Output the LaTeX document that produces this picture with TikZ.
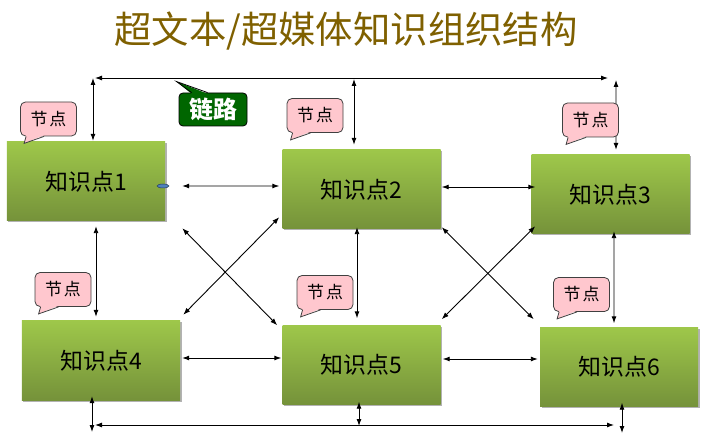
\documentclass[tikz,border=0pt]{standalone}
\usepackage{fontspec}
\newfontfamily\cjk{Noto Sans CJK SC}
\usetikzlibrary{arrows.meta,shadows,shapes.geometric}
\definecolor{titlec}{RGB}{127,96,0}
\definecolor{gtop}{RGB}{158,199,74}
\definecolor{gbot}{RGB}{117,146,58}
\definecolor{pinkc}{RGB}{255,199,206}
\definecolor{linkg}{RGB}{0,102,0}
\definecolor{ellc}{RGB}{79,129,189}
\newcommand\jdcall[3]{%
  \node[jdbox] (#1) at (#2,#3) {节\hspace{2bp}点};
  \fill[pinkc] ([shift={(6,-1.2)}]#1.south west) -- ([shift={(4,7)}]#1.south west) -- ([shift={(24,-1.2)}]#1.south west) -- cycle;
  \draw[cline] ([shift={(6,0)}]#1.south west) -- ([shift={(4,7)}]#1.south west) -- ([shift={(24,0)}]#1.south west);
}
\begin{document}
\begin{tikzpicture}[x=1bp,y=-1bp,
  kbox/.style={rectangle, minimum width=158bp, minimum height=79bp, inner sep=0pt,
    top color=gtop, bottom color=gbot, draw=none,
    drop shadow={shadow xshift=1.5bp,shadow yshift=-1.5bp,opacity=0.3,fill=black},
    font=\cjk\fontsize{23}{23}\selectfont},
  jdbox/.style={rectangle, rounded corners=5bp, minimum width=56bp, minimum height=34bp,
    inner sep=0pt, fill=pinkc, draw=black!75, line width=0.8bp,
    font=\cjk\fontsize{17}{17}\selectfont},
  cline/.style={draw=black!75, line width=0.8bp},
  dbl/.style={{Latex[length=7bp,width=5bp]}-{Latex[length=7bp,width=5bp]}, line width=0.9bp},
]
\useasboundingbox (0,0) rectangle (711,438);

\node[font=\cjk\fontsize{37.5}{40}\selectfont, text=titlec] (title) at (346,31) {超文本/超媒体知识组织结构};

\node[kbox] (b1) at (86,181.5) {知识点1};
\node[kbox] (b2) at (361.5,189.5) {知识点2};
\node[kbox] (b3) at (610.5,194.5) {知识点3};
\node[kbox] (b4) at (101,360.5) {知识点4};
\node[kbox] (b5) at (361.5,365) {知识点5};
\node[kbox] (b6) at (619,367) {知识点6};

\node[ellipse, fill=ellc, draw=ellc!50!black, line width=0.5bp, minimum width=12bp, minimum height=4bp, inner sep=0pt] (dot) at (163,186) {};

% horizontal links
\draw[dbl] ([shift={(17,4.5)}]b1.east) -- ([shift={(-3,-3.5)}]b2.west);
\draw[dbl] ([shift={(1,-2.5)}]b2.east) -- ([shift={(4,-7.5)}]b3.west);
\draw[dbl] ([shift={(2,-2.5)}]b4.east) -- ([shift={(-1,-7)}]b5.west);
\draw[dbl] ([shift={(2,-6)}]b5.east) -- ([shift={(-2,-8)}]b6.west);
% vertical links
\draw[dbl] ([shift={(10,5)}]b1.south) -- ([shift={(-5,-4)}]b4.north);
\draw[dbl] ([shift={(-4.5,-2)}]b2.south) -- ([shift={(-4.5,-7)}]b5.north);
\draw[dbl] ([shift={(3.5,-3)}]b3.south) -- ([shift={(-5,-4)}]b6.north);
% diagonal links
\draw[dbl] ([shift={(17,7)}]b1.south east) -- ([shift={(-5,0)}]b5.north west);
\draw[dbl] ([shift={(3,-6)}]b4.north east) -- ([shift={(-3,-12)}]b2.south west);
\draw[dbl] ([shift={(1,-2)}]b2.south east) -- ([shift={(-6,-8)}]b6.north west);
\draw[dbl] ([shift={(1,-6)}]b5.north east) -- ([shift={(4,-8)}]b3.south west);

% top links
\coordinate (tlh) at (95,78);
\coordinate (trh) at (608,78);
\draw[dbl] (tlh) -- (trh);
\coordinate (tv1) at (93,78);
\draw[dbl] (tv1) -- ([shift={(7,-1)}]b1.north);
\coordinate (tv2) at (354,79);
\draw[dbl] (tv2) -- ([shift={(-7.5,-5)}]b2.north);
\coordinate (tv3) at (616,80);
\draw[dbl] (tv3) -- ([shift={(5.5,-5)}]b3.north);

% bottom links
\coordinate (blh) at (95,425);
\coordinate (brh) at (614,425);
\draw[dbl] (blh) -- (brh);
\coordinate (bv1) at (92,432);
\draw[dbl] ([shift={(-9,-4)}]b4.south) -- (bv1);
\coordinate (bv2) at (359,426);
\draw[dbl] ([shift={(-2.5,-3)}]b5.south) -- (bv2);
\coordinate (bv3) at (622,433);
\draw[dbl] ([shift={(3,-4)}]b6.south) -- (bv3);

% node callouts
\jdcall{c1}{48.5}{119}
\jdcall{c2}{315}{115.5}
\jdcall{c3}{590.5}{120}
\jdcall{c4}{63}{289.5}
\jdcall{c5}{325}{292.5}
\jdcall{c6}{581.5}{294.5}

% link callout
\node[rectangle, rounded corners=4bp, minimum width=68bp, minimum height=33bp, inner sep=0pt,
  fill=linkg, draw=black, line width=0.8bp, text=white,
  font=\cjk\bfseries\fontsize{24}{24}\selectfont] (ll) at (213,109.5) {链路};
\fill[linkg] ([shift={(13,1.2)}]ll.north west) -- ([shift={(-2,-11)}]ll.north west) -- ([shift={(29,1.2)}]ll.north west) -- cycle;
\draw[black, line width=0.8bp] ([shift={(13,0)}]ll.north west) -- ([shift={(-2,-11)}]ll.north west) -- ([shift={(29,0)}]ll.north west);
\end{tikzpicture}
\end{document}
